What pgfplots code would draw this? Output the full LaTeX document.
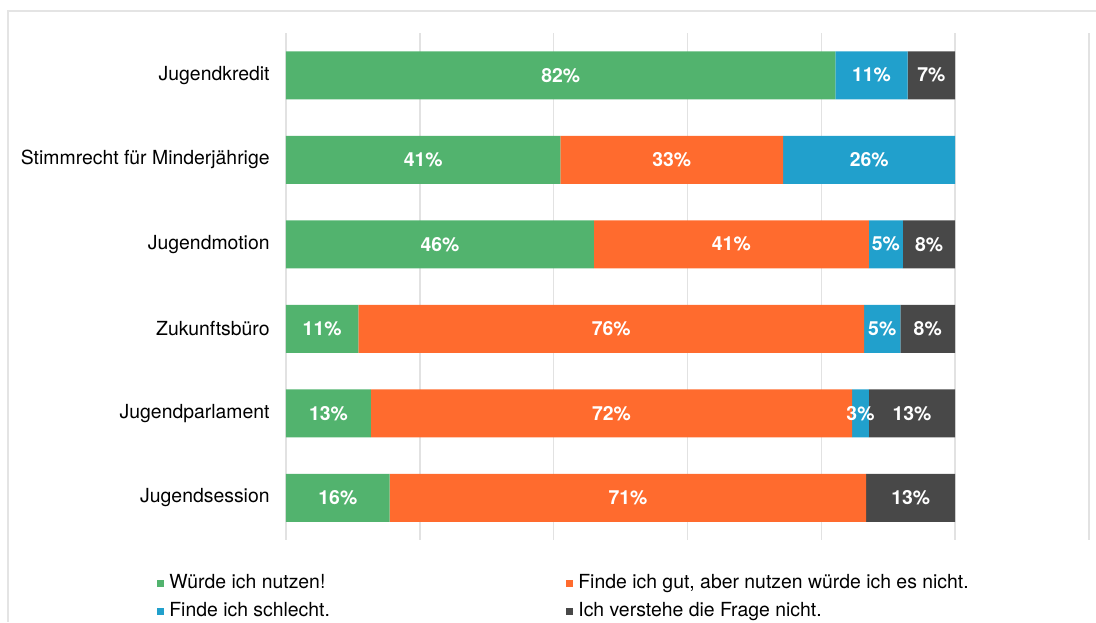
\documentclass[border=0pt]{standalone}
\usepackage{pgfplots}
\pgfplotsset{compat=1.18}
\usepackage{fontspec}
\setmainfont{TeX Gyre Heros}
\definecolor{cgreen}{HTML}{52B36E}
\definecolor{corange}{HTML}{FF6B2E}
\definecolor{cblue}{HTML}{21A0CC}
\definecolor{cgray}{HTML}{484848}
\definecolor{cgrid}{HTML}{E2E2E2}
\definecolor{cframe}{HTML}{E4E4E4}
\begin{document}
\fontsize{9.7}{11.6}\selectfont
\begin{tikzpicture}
\useasboundingbox (0,0) rectangle (548pt,-311pt);
\draw[cframe, line width=1pt] (548pt,-5.5pt) -- (4pt,-5.5pt) -- (4pt,-311pt);
\begin{axis}[
  at={(143pt,-270pt)}, anchor=south west,
  scale only axis, width=401.5pt, height=253.5pt,
  xbar stacked, bar width=24pt,
  xmin=0, xmax=120, xtick={0,20,...,120}, xticklabels={},
  xmajorgrids, grid style={cgrid, line width=0.7pt},
  ymin=-0.5, ymax=5.5, y dir=reverse,
  ytick={0,1,2,3,4,5},
  yticklabels={Jugendkredit,Stimmrecht für Minderjährige,Jugendmotion,Zukunftsbüro,Jugendparlament,Jugendsession},
  yticklabel style={inner sep=0pt, xshift=-8pt, font=\fontsize{9.7}{11.6}\selectfont},
  axis line style={draw=none}, major tick length=0pt, tick style={draw=none},
  point meta=explicit symbolic,
  nodes near coords,
  every node near coord/.append style={anchor=center, text=white, font=\fontsize{9.7}{11.6}\selectfont\bfseries, inner sep=0pt},
  legend columns=2,
  legend image code/.code={\fill[#1, draw=none] (0pt,-1.75pt) rectangle (3.5pt,1.75pt);},
  legend style={draw=none, fill=none, inner sep=0pt, row sep=5pt,
    at={(axis cs:-19.28,5.9)}, anchor=north west,
    font=\fontsize{9.7}{11.6}\selectfont,
    nodes={inner sep=0pt, text height=7pt, text depth=2pt},
    /tikz/every odd column/.append style={column sep=2.5pt}},
  legend cell align=left,
]
\addplot[fill=cgreen, draw=none] coordinates {
 (82.1,0) [82\%] (41.0,1) [41\%] (46.0,2) [46\%] (10.8,3) [11\%] (12.7,4) [13\%] (15.5,5) [16\%]};
\addplot[fill=corange, draw=none] coordinates {
 (0,0) [] (33.3,1) [33\%] (41.1,2) [41\%] (75.6,3) [76\%] (71.9,4) [72\%] (71.2,5) [71\%]};
\addplot[fill=cblue, draw=none] coordinates {
 (10.8,0) [11\%] (25.7,1) [26\%] (5.1,2) [5\%] (5.4,3) [5\%] (2.5,4) [3\%] (0,5) []};
\addplot[fill=cgray, draw=none] coordinates {
 (7.1,0) [7\%] (0,1) [] (7.8,2) [8\%] (8.2,3) [8\%] (12.9,4) [13\%] (13.3,5) [13\%]};
\addlegendentry{\makebox[198.5pt][l]{Würde ich nutzen!}}
\addlegendentry{Finde ich gut, aber nutzen würde ich es nicht.}
\addlegendentry{Finde ich schlecht.}
\addlegendentry{Ich verstehe die Frage nicht.}
\end{axis}
\end{tikzpicture}
\end{document}
